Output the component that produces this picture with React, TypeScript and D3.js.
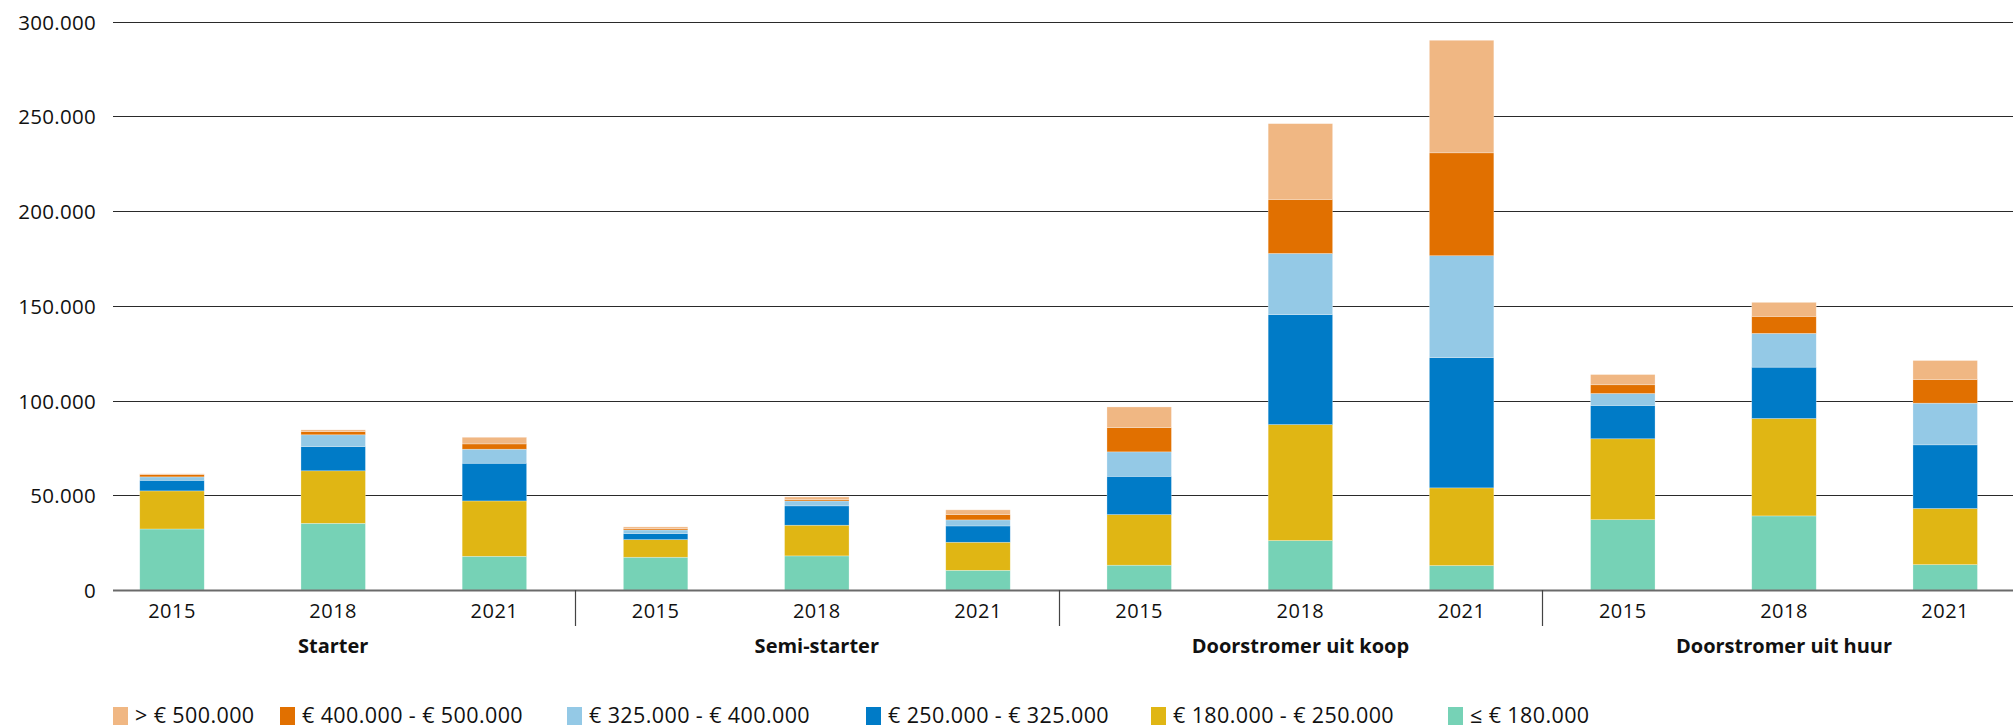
import React from "react";
import * as d3 from "d3";

const groups = ["Starter", "Semi-starter", "Doorstromer uit koop", "Doorstromer uit huur"];
const years = ["2015", "2018", "2021"];

const seriesLabels = [
  "≤ € 180.000",
  "€ 180.000 - € 250.000",
  "€ 250.000 - € 325.000",
  "€ 325.000 - € 400.000",
  "€ 400.000 - € 500.000",
  "> € 500.000",
];
const seriesColors = ["#76d2b6", "#e0b614", "#007bc7", "#94c9e6", "#e17000", "#f0b783"];

// values per bar: Starter 2015/2018/2021, Semi-starter ..., Doorstromer uit koop ..., Doorstromer uit huur ...
const le180 = [32200, 35200, 17800, 17300, 18000, 10400, 13100, 26100, 12900, 37100, 39100, 13400];
const b180to250 = [20100, 27700, 29200, 9300, 16200, 14800, 26700, 61200, 41000, 42700, 51400, 29600];
const b250to325 = [5600, 12800, 19900, 3200, 10200, 8600, 20200, 58000, 68700, 17600, 27100, 33600];
const b325to400 = [1800, 6200, 7400, 1900, 2600, 3200, 12900, 32300, 53800, 6300, 17800, 22000];
const b400to500 = [1200, 1700, 2800, 700, 700, 2800, 12800, 28500, 54300, 4600, 9000, 12500];
const gt500 = [400, 900, 3500, 900, 1400, 2500, 10900, 40000, 59400, 5400, 7400, 10000];

const yTicks = [0, 50000, 100000, 150000, 200000, 250000, 300000];

const allSeries = [le180, b180to250, b250to325, b325to400, b400to500, gt500];

const W = 2013;
const H = 728;
const FONT = "'Open Sans', sans-serif";
const FS = 20;

// legend layout (x of swatch), order as shown left to right
const legendOrder = [5, 4, 3, 2, 1, 0];
const legendX = [113, 280, 567, 866, 1151, 1448];

export default function App() {
  const bars = groups.flatMap((g, gi) => years.map((y, yi) => ({ key: `${g}|${y}`, group: g, year: y, idx: gi * 3 + yi })));
  const rows = bars.map((b) => {
    const r: any = { key: b.key };
    allSeries.forEach((s, si) => (r["s" + si] = s[b.idx]));
    return r;
  });
  const stack = d3.stack<any>().keys(allSeries.map((_, i) => "s" + i));
  const stacked = stack(rows);

  const x = d3.scaleBand<string>().domain(bars.map((b) => b.key)).range([91.4, 91.4 + 161.2 * 12]).paddingInner(0.6).paddingOuter(0.3);
  const slot = x.step();
  const y = d3.scaleLinear().domain([0, 300000]).range([590, 21.5]);
  const fmt = d3.formatLocale({ decimal: ",", thousands: ".", grouping: [3], currency: ["€", ""] }).format(",");

  const xStart = 91.4;
  const groupX = (gi: number) => {
    const first = x(bars[gi * 3].key)! + x.bandwidth() / 2;
    const last = x(bars[gi * 3 + 2].key)! + x.bandwidth() / 2;
    return (first + last) / 2;
  };

  return (
    <svg width={W} height={H} style={{ position: "absolute", left: 0, top: 0, background: "#fff" }} fontFamily={FONT}>
      {/* gridlines */}
      {yTicks.map((t) => (
        <g key={t}>
          {t !== 0 && (
            <line x1={113} x2={2013} y1={Math.round(y(t)) + 0.5} y2={Math.round(y(t)) + 0.5} stroke="#2a2a2a" strokeWidth={1.2} />
          )}
          <text x={96} y={y(t)} textAnchor="end" dominantBaseline="central" fontSize={20.5} letterSpacing={0.3} fill="#111">
            {fmt(t)}
          </text>
        </g>
      ))}
      {/* bars */}
      {stacked.map((layer, si) => (
        <g key={si} fill={seriesColors[si]}>
          {layer.map((d, i) => (
            <rect
              key={i}
              x={x(bars[i].key)}
              width={x.bandwidth()}
              y={y(d[1])}
              height={Math.max(0, y(d[0]) - y(d[1]))}
              stroke="#ffffff"
              strokeOpacity={0.45}
              strokeWidth={0.6}
            />
          ))}
        </g>
      ))}
      {/* zero axis */}
      <line x1={113} x2={2013} y1={590.5} y2={590.5} stroke="#6a6a6a" strokeWidth={2} />
      {/* group dividers */}
      {[1, 2, 3].map((gi) => {
        const xx = Math.round(xStart + gi * 3 * slot) + 0.5;
        return <line key={gi} x1={xx} x2={xx} y1={590} y2={626} stroke="#444" strokeWidth={1.2} />;
      })}
      {/* year labels */}
      {bars.map((b) => (
        <text key={b.key} x={x(b.key)! + x.bandwidth() / 2} y={618} textAnchor="middle" fontSize={FS} letterSpacing={0.5} fill="#111">
          {b.year}
        </text>
      ))}
      {/* group labels */}
      {groups.map((g, gi) => (
        <text key={g} x={groupX(gi)} y={653} textAnchor="middle" fontSize={FS} fontWeight="bold" fill="#111">
          {g}
        </text>
      ))}
      {/* legend */}
      {legendOrder.map((si, li) => (
        <g key={si} transform={`translate(${legendX[li]},0)`}>
          <rect x={0} y={707} width={15} height={18} fill={seriesColors[si]} />
          <text x={22} y={723} fontSize={21.5} letterSpacing={0.4} fill="#111">
            {seriesLabels[si]}
          </text>
        </g>
      ))}
    </svg>
  );
}
